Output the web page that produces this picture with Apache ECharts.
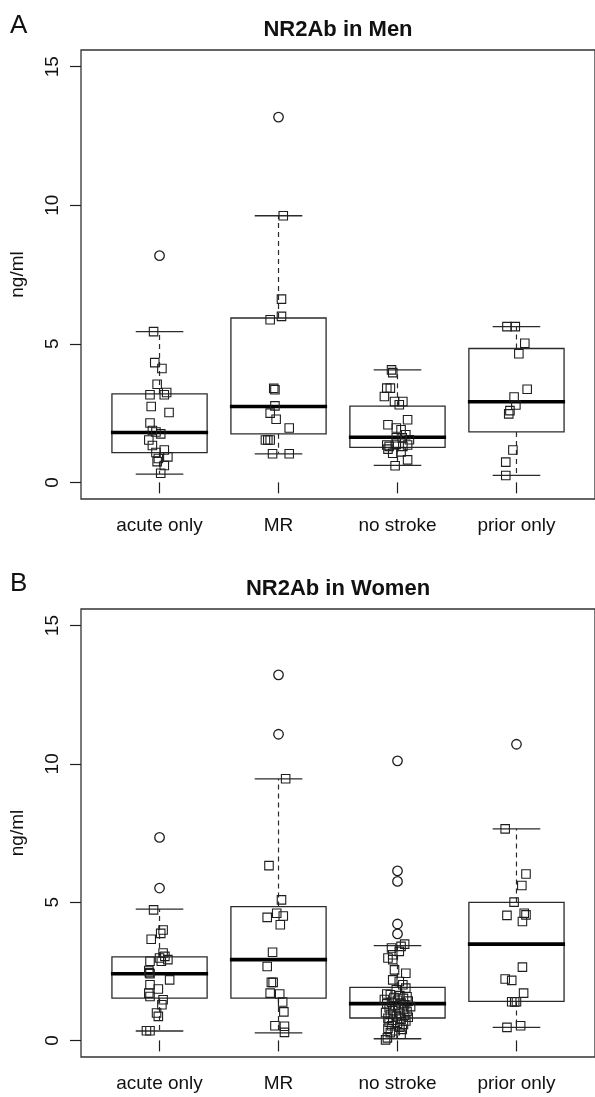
<!DOCTYPE html>
<html>
<head>
<meta charset="utf-8">
<script src="https://cdn.jsdelivr.net/npm/echarts@6/dist/echarts.min.js"></script>
<style>
html,body{margin:0;padding:0;background:#fff;}
#chart{width:595px;height:1097px;}
</style>
</head>
<body>
<div id="chart"></div>
<script>
const categories = ['acute only', 'MR', 'no stroke', 'prior only'];
const yTicks = [0, 5, 10, 15];

// box stats per group: [lower whisker, Q1, median, Q3, upper whisker]
const menStats = [
  [0.30, 1.07, 1.80, 3.19, 5.44],
  [1.03, 1.75, 2.74, 5.93, 9.62],
  [0.61, 1.26, 1.63, 2.75, 4.06],
  [0.25, 1.82, 2.91, 4.83, 5.62]
];
const womenStats = [
  [0.34, 1.53, 2.41, 3.02, 4.75],
  [0.27, 1.53, 2.92, 4.84, 9.46],
  [0.06, 0.81, 1.33, 1.92, 3.43],
  [0.47, 1.41, 3.48, 4.99, 7.65]
];

// outliers per group
const menOutliers = [[8.18], [13.18], [], []];
const womenOutliers = [[7.34, 5.51], [13.22, 11.07], [10.11, 6.13, 5.75, 4.21, 3.85], [10.71]];

// jittered points per group: [jitter offset, value]
const menAcute = [[-0.05,5.44],[-0.04,4.32],[0.02,4.11],[-0.02,3.54],[-0.08,3.16],[0.04,3.16],[0.06,3.24],[-0.07,2.74],[0.08,2.52],[-0.08,2.14],[-0.06,1.87],[-0.03,1.82],[0.01,1.75],[-0.09,1.53],[-0.06,1.33],[-0.03,1.08],[0.04,1.17],[-0.01,0.86],[0.07,0.92],[-0.02,0.75],[0.04,0.61],[0.01,0.33]];
const menMR = [[0.04,9.62],[0.025,6.61],[0.025,5.99],[-0.07,5.87],[-0.04,3.39],[-0.03,3.34],[-0.03,2.76],[-0.07,2.50],[-0.02,2.28],[0.09,1.96],[-0.11,1.53],[-0.09,1.53],[-0.07,1.53],[-0.05,1.03],[0.09,1.03]];
const menNoStroke = [[-0.05,4.06],[-0.04,3.96],[-0.09,3.40],[-0.06,3.40],[-0.11,3.10],[-0.025,2.92],[0.045,2.92],[0.015,2.80],[0.085,2.26],[-0.08,2.08],[-0.01,1.96],[0.03,1.90],[0.07,1.72],[0.10,1.54],[0.04,1.61],[-0.01,1.61],[-0.09,1.35],[-0.07,1.30],[-0.08,1.20],[-0.01,1.37],[0.045,1.30],[0.085,1.35],[-0.04,1.05],[0.03,1.10],[0.085,0.81],[-0.02,0.60]];
const menPrior = [[-0.08,5.62],[-0.01,5.62],[0.07,5.02],[0.02,4.64],[0.09,3.36],[-0.02,3.08],[-0.005,2.79],[-0.055,2.59],[-0.065,2.47],[-0.03,1.17],[-0.09,0.73],[-0.09,0.25]];

const womenAcute = [[-0.05,4.72],[0.03,3.99],[0.01,3.87],[-0.07,3.66],[0.03,3.16],[0.045,3.04],[0,2.98],[0.07,2.92],[0.015,2.86],[-0.08,2.86],[-0.09,2.53],[-0.085,2.45],[-0.08,2.41],[0.085,2.19],[-0.08,2.01],[-0.01,1.86],[-0.09,1.71],[-0.08,1.59],[0.03,1.47],[0.02,1.29],[-0.025,0.99],[-0.01,0.87],[-0.11,0.35],[-0.08,0.35]];
const womenMR = [[0.06,9.46],[-0.08,6.32],[0.025,5.08],[-0.095,4.45],[-0.015,4.60],[0.04,4.50],[0.015,4.18],[-0.05,3.19],[-0.095,2.67],[-0.045,2.10],[-0.06,2.10],[-0.07,1.71],[0.01,1.68],[0.035,1.39],[0.045,1.03],[-0.03,0.53],[0.05,0.51],[0.05,0.29]];
const womenNoStroke = [[0.06,3.48],[0.03,3.40],[-0.05,3.34],[0.015,3.22],[-0.04,3.10],[-0.08,2.98],[-0.04,2.92],[-0.025,2.55],[0.07,2.43],[-0.04,2.19],[0.015,2.13],[0.045,2.01],[0.07,1.89],[-0.01,1.83],
  [-0.09,1.68],[-0.06,1.65],[0.02,1.62],[0.08,1.58],[-0.03,1.55],[0.05,1.52],[-0.11,1.48],[0.0,1.45],[0.09,1.42],[-0.05,1.38],[0.03,1.35],[-0.09,1.32],[0.06,1.29],[-0.02,1.26],[0.11,1.22],[-0.07,1.18],[0.01,1.15],[0.05,1.12],[-0.04,1.08],[0.08,1.05],[-0.10,1.01],[0.02,0.98],[-0.06,0.94],[0.06,0.91],[-0.01,0.88],[0.09,0.84],[-0.08,0.80],[0.03,0.77],[-0.04,0.73],[0.07,0.70],[-0.07,0.66],[0.0,0.62],[0.05,0.58],[-0.05,0.53],[0.02,0.48],[-0.08,0.44],[0.04,0.40],[-0.02,0.35],[-0.06,0.28],[0.03,0.22],
  [-0.085,0.09],[-0.10,0.02]];
const womenPrior = [[-0.095,7.65],[0.08,6.02],[0.045,5.60],[-0.02,5.00],[-0.08,4.52],[0.065,4.60],[0.08,4.54],[0.05,4.30],[0.05,2.65],[-0.095,2.22],[-0.04,2.17],[0.06,1.71],[-0.04,1.40],[-0.015,1.39],[0,1.40],[-0.08,0.47],[0.035,0.53]];

const menPoints = [menAcute, menMR, menNoStroke, menPrior];
const womenPoints = [womenAcute, womenMR, womenNoStroke, womenPrior];

const FONT = "'Liberation Sans', Arial, Helvetica, sans-serif";
const INK = '#1e1e1e';

function renderBox(params, api) {
  const x = api.value(0), lo = api.value(1), q1 = api.value(2), md = api.value(3), q3 = api.value(4), hi = api.value(5);
  const c = (dx, v) => api.coord([x + dx, v]);
  const tl = c(-0.4, q3), br = c(0.4, q1);
  const m1 = c(-0.4, md), m2 = c(0.4, md);
  const ctop = c(0, q3), chi = c(0, hi), cbot = c(0, q1), clo = c(0, lo);
  const sh1 = c(-0.2, hi), sh2 = c(0.2, hi), sl1 = c(-0.2, lo), sl2 = c(0.2, lo);
  const thin = {stroke: '#2b2b2b', lineWidth: 1.3, fill: null};
  const dash = {stroke: '#2b2b2b', lineWidth: 1.2, lineDash: [5, 4], fill: null};
  return {type: 'group', children: [
    {type: 'rect', shape: {x: tl[0], y: tl[1], width: br[0] - tl[0], height: br[1] - tl[1]}, style: {fill: 'none', stroke: '#2b2b2b', lineWidth: 1.3}},
    {type: 'line', shape: {x1: ctop[0], y1: ctop[1], x2: chi[0], y2: chi[1]}, style: dash},
    {type: 'line', shape: {x1: cbot[0], y1: cbot[1], x2: clo[0], y2: clo[1]}, style: dash},
    {type: 'line', shape: {x1: sh1[0], y1: sh1[1], x2: sh2[0], y2: sh2[1]}, style: thin},
    {type: 'line', shape: {x1: sl1[0], y1: sl1[1], x2: sl2[0], y2: sl2[1]}, style: thin},
    {type: 'line', shape: {x1: m1[0] - 1, y1: m1[1], x2: m2[0] + 1, y2: m2[1]}, style: {stroke: '#000', lineWidth: 3.6}}
  ]};
}

const grids = [
  {left: 79, top: 50, width: 518, height: 449},
  {left: 79, top: 609, width: 518, height: 448}
];

function makeX(gi) {
  return {
    type: 'value', gridIndex: gi, min: 0.34, max: 4.66,
    axisLine: {show: false},
    splitLine: {show: false},
    axisTick: {show: true, length: 11, inside: false, customValues: [1, 2, 3, 4], lineStyle: {color: INK, width: 1.2}},
    axisLabel: {show: true, customValues: [1, 2, 3, 4], formatter: v => categories[Math.round(v) - 1] || '', fontSize: 19, color: '#111', fontFamily: FONT, margin: 17}
  };
}
function makeY(gi) {
  return {
    type: 'value', gridIndex: gi, min: -0.6, max: 15.6,
    name: 'ng/ml', nameLocation: 'middle', nameRotate: 90, nameGap: 54,
    nameTextStyle: {fontSize: 19, color: '#111', fontFamily: FONT},
    axisLine: {show: false},
    splitLine: {show: false},
    axisTick: {show: true, length: 11, inside: false, customValues: yTicks, lineStyle: {color: INK, width: 1.2}},
    axisLabel: {show: true, customValues: yTicks, rotate: 90, fontSize: 19, color: '#111', fontFamily: FONT, margin: 19}
  };
}

function panelSeries(gi, stats, points, outliers) {
  const boxData = stats.map((s, i) => [i + 1].concat(s));
  const sq = [];
  points.forEach((arr, i) => arr.forEach(p => sq.push([i + 1 + p[0], p[1]])));
  const oc = [];
  outliers.forEach((arr, i) => arr.forEach(v => oc.push([i + 1, v])));
  return [
    {type: 'custom', xAxisIndex: gi, yAxisIndex: gi, renderItem: renderBox, data: boxData, silent: true, z: 2},
    {type: 'scatter', xAxisIndex: gi, yAxisIndex: gi, data: sq, symbol: 'rect', symbolSize: 8.5,
      itemStyle: {color: 'rgba(0,0,0,0)', borderColor: INK, borderWidth: 1.1, opacity: 1}, silent: true, z: 3},
    {type: 'scatter', xAxisIndex: gi, yAxisIndex: gi, data: oc, symbol: 'circle', symbolSize: 9.5,
      itemStyle: {color: 'rgba(0,0,0,0)', borderColor: INK, borderWidth: 1.3, opacity: 1}, silent: true, z: 3}
  ];
}

const chart = echarts.init(document.getElementById('chart'), null, {renderer: 'canvas'});
chart.setOption({
  animation: false,
  backgroundColor: '#fff',
  title: [
    {text: 'A', left: 10, top: 13, padding: 0, textStyle: {fontSize: 26, fontWeight: 'normal', color: '#111', fontFamily: FONT}},
    {text: 'NR2Ab in Men', left: 338, top: 19, padding: 0, textAlign: 'center', textStyle: {fontSize: 22, fontWeight: 'bold', color: '#111', fontFamily: FONT}},
    {text: 'B', left: 10, top: 571, padding: 0, textStyle: {fontSize: 26, fontWeight: 'normal', color: '#111', fontFamily: FONT}},
    {text: 'NR2Ab in Women', left: 338, top: 578, padding: 0, textAlign: 'center', textStyle: {fontSize: 22, fontWeight: 'bold', color: '#111', fontFamily: FONT}}
  ],
  grid: grids.map(g => Object.assign({show: true, borderColor: '#333', borderWidth: 1.3, backgroundColor: 'transparent'}, g)),
  xAxis: [makeX(0), makeX(1)],
  yAxis: [makeY(0), makeY(1)],
  series: panelSeries(0, menStats, menPoints, menOutliers).concat(panelSeries(1, womenStats, womenPoints, womenOutliers))
});
</script>
</body>
</html>
